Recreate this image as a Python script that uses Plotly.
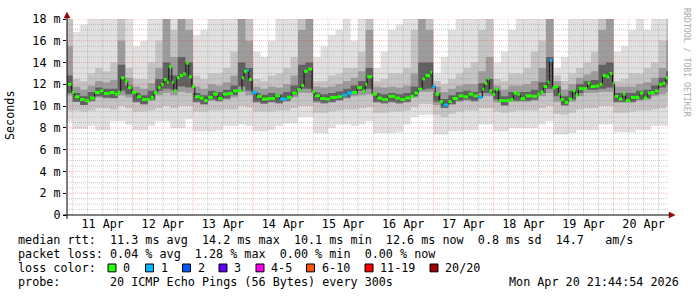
import plotly.graph_objects as go
import pandas as pd

# ---------------- data ----------------
# hours after 2026-04-11 00:00 where each median step starts
median_hours = [-2.0, -0.4, 0.8, 2.8, 4.8, 6.8, 8.8, 10.8, 12.4, 14.8, 16.8, 18.0, 19.2, 20.8, 22.0, 23.6,
                25.6, 27.6, 29.6, 31.2, 32.4, 34.0, 35.2, 36.4, 37.6, 38.4, 39.6, 40.4, 41.6, 42.8, 44.0,
                45.2, 46.4, 47.6, 48.8, 50.8, 52.4, 54.0, 56.0, 58.0, 60.0, 62.0, 64.0, 66.0, 67.6, 68.4,
                69.6, 70.4, 71.6, 73.6, 75.6, 78.0, 80.8, 82.8, 85.6, 87.6, 89.6, 91.2, 92.4, 94.0, 95.6,
                96.8, 98.8, 100.8, 102.8, 105.6, 107.6, 109.6, 111.6, 113.6, 115.6, 116.8, 117.6, 119.6,
                121.6, 123.6, 126.0, 128.8, 130.8, 132.8, 134.8, 136.4, 138.0, 139.6, 140.8, 142.8, 143.6,
                144.8, 146.4, 148.0, 150.0, 151.6, 154.0, 156.0, 158.0, 160.0, 162.0, 163.6, 164.4, 165.6,
                166.4, 167.6, 168.8, 170.0, 172.8, 174.8, 176.0, 177.6, 178.8, 180.8, 183.6, 185.6, 186.8,
                188.0, 189.6, 190.4, 191.6, 192.8, 194.0, 194.8, 196.4, 198.0, 199.6, 200.8, 202.0, 204.0,
                205.6, 206.8, 208.8, 210.4, 211.6, 213.2, 214.4, 215.6, 216.4, 218.0, 219.6, 220.8, 222.8,
                224.8, 226.4, 228.0, 229.6, 230.8, 232.4, 234.0, 235.6, 236.8]
median_ms = [12.0, 11.25, 10.86, 10.6, 10.5, 10.74, 11.25, 11.4, 11.16, 11.25, 11.1, 11.25, 12.6, 12.3, 11.7, 11.25,
             10.86, 10.6, 10.6, 10.8, 11.2, 11.7, 12.0, 12.45, 12.2, 13.6, 12.2, 11.4, 12.6, 12.8, 12.96,
             13.95, 12.7, 11.8, 10.86, 10.74, 10.5, 10.8, 11.1, 10.7, 11.1, 11.16, 11.4, 11.4, 12.6, 13.2,
             13.3, 12.45, 11.25, 10.9, 10.65, 10.7, 10.95, 10.65, 10.8, 11.2, 11.5, 11.9, 13.2, 13.4, 11.3,
             10.95, 10.7, 10.65, 10.8, 10.86, 11.0, 11.2, 11.25, 11.7, 11.4, 12.0, 12.7, 11.1,
             10.74, 10.6, 10.9, 10.74, 10.6, 10.74, 10.9, 11.2, 11.55, 12.5, 12.8, 13.1, 11.8,
             11.1, 10.4, 10.1, 10.4, 10.7, 10.95, 10.86, 11.1, 10.95, 10.8, 11.55, 12.1, 12.5,
             11.4, 11.1, 11.55, 10.5, 10.5, 10.6, 11.2, 11.1, 10.7, 10.95, 10.9, 11.1, 11.3,
             11.8, 12.2, 14.2, 11.7, 11.8, 11.1, 10.6, 10.35, 10.65, 11.4, 11.0, 11.6, 11.6,
             12.1, 11.8, 11.85, 12.0, 12.8, 12.7, 13.0, 12.1, 10.9, 10.65, 11.1, 10.5, 10.8,
             10.8, 11.2, 10.74, 11.2, 11.25, 11.4, 12.0, 12.1, 12.6]
end_hour = 237.75

# steps that lost one of 20 pings
loss_hours = [69.6, 71.6, 82.8, 107.6, 109.6, 143.6, 148.0, 162.0, 190.4]
loss_counts = [1, 1, 1, 1, 1, 1, 1, 1, 1]

# smoke: 3-hour columns starting at 2026-04-10 21:00
smoke_start_hours = [-3 + 3 * i for i in range(81)]
outer_lo = [8.6, 7.9, 7.9, 8.2, 7.8, 7.8, 8.6, 8.6, 8.3, 7.8, 7.8, 8.2, 8.6, 8.6, 8.0, 8.0, 8.8, 7.7, 7.7, 7.7,
            7.8, 8.2, 8.2, 8.3, 8.2, 7.7, 7.7, 7.8, 8.2, 8.4, 8.4, 9.0, 9.0, 7.5, 7.5, 8.0, 8.3, 8.3, 8.2, 8.3,
            8.6, 7.5, 7.5, 7.5, 7.6, 8.3, 9.0, 9.2, 9.2, 7.4, 7.4, 7.7, 7.7, 7.8, 7.8, 8.3, 8.3, 7.7, 7.7, 8.0,
            8.0, 8.0, 8.0, 8.3, 8.6, 7.4, 7.4, 7.5, 7.8, 7.8, 7.8, 8.3, 8.3, 7.6, 7.6, 7.6, 7.8, 7.8, 8.2, 8.2,
            8.2]
mid_lo = [9.6, 9.6, 9.5, 9.6, 9.8, 9.8, 9.7, 10.0, 9.8, 9.5, 9.5, 9.6, 9.8, 10.0, 9.8, 10.0, 10.0, 9.5, 9.5, 9.6,
          9.6, 9.7, 9.7, 10.0, 9.9, 9.5, 9.5, 9.5, 9.6, 9.6, 9.8, 10.0, 10.0, 9.4, 9.4, 9.5, 9.6, 9.7, 9.7, 9.8,
          9.9, 9.4, 9.4, 9.5, 9.5, 9.6, 9.9, 10.2, 10.2, 9.2, 9.0, 9.3, 9.5, 9.6, 9.6, 9.8, 9.8, 9.5, 9.4, 9.5,
          9.6, 9.6, 9.6, 9.8, 10.0, 9.3, 9.2, 9.4, 9.7, 9.8, 9.8, 10.0, 10.0, 9.4, 9.4, 9.5, 9.6, 9.6, 9.7, 9.8,
          10.0]
inner_lo = [11.0, 10.4, 10.1, 10.4, 10.8, 10.7, 10.7, 11.0, 10.8, 10.3, 10.1, 10.5, 11.0, 11.2, 11.0, 11.3, 11.2,
            10.3, 10.1, 10.5, 10.4, 10.6, 10.8, 11.3, 11.0, 10.3, 10.2, 10.3, 10.2, 10.4, 10.8, 11.2, 11.2, 10.3,
            10.2, 10.3, 10.5, 10.7, 10.9, 11.0, 11.1, 10.3, 10.2, 10.3, 10.2, 10.3, 10.8, 11.3, 11.3, 10.1, 9.8,
            10.1, 10.4, 10.5, 10.4, 10.9, 10.9, 10.3, 10.0, 10.4, 10.4, 10.4, 10.5, 10.9, 11.2, 10.4, 10.0, 10.4,
            10.9, 11.2, 11.2, 11.3, 11.3, 10.3, 10.3, 10.3, 10.5, 10.6, 10.9, 11.1, 11.3]
inner_hi = [15.5, 11.8, 11.5, 11.9, 12.3, 12.2, 12.4, 16.0, 12.6, 11.8, 11.6, 12.1, 13.5, 18.5, 14.5, 18.5, 17.0,
            11.8, 11.6, 12.0, 11.9, 12.2, 12.8, 18.5, 16.0, 11.8, 11.6, 11.8, 11.7, 12.0, 12.8, 17.0, 18.5, 11.8,
            11.7, 11.8, 12.0, 12.3, 12.6, 13.2, 17.0, 11.8, 11.7, 11.8, 11.7, 11.9, 13.0, 18.5, 17.0, 11.8, 11.3,
            11.6, 11.9, 12.0, 12.0, 13.2, 14.5, 11.9, 11.5, 11.9, 11.9, 12.0, 12.3, 13.5, 18.5, 12.3, 11.5, 12.0,
            12.6, 12.9, 13.2, 17.0, 18.5, 11.8, 11.8, 11.8, 12.0, 12.2, 12.6, 13.5, 16.0]
dark_lo = [11.2, 10.4, 10.1, 10.5, 10.9, 10.8, 10.75, 11.4, 11.1, 10.4,
           10.2, 10.6, 11.4, 11.6, 11.5, 11.8, 11.7, 10.4, 10.2, 10.6,
           10.5, 10.7, 11.0, 11.8, 11.4, 10.4, 10.25, 10.4, 10.3, 10.5,
           11.0, 11.6, 11.6, 10.45, 10.3, 10.4, 10.55, 10.8, 11.1, 11.4,
           11.6, 10.4, 10.3, 10.4, 10.3, 10.4, 10.9, 11.5, 11.6, 10.4,
           9.85, 10.2, 10.5, 10.6, 10.5, 11.2, 11.2, 10.6, 10.1, 10.5,
           10.5, 10.5, 10.6, 11.2, 11.6, 10.9, 10.1, 10.6, 11.2, 11.5,
           11.5, 11.6, 11.7, 10.4, 10.4, 10.4, 10.6, 10.7, 11.1, 11.7, 12.0]
dark_hi = [12.8, 11.2, 10.9, 11.3, 11.7, 11.6, 11.6, 13.8, 11.9, 11.2,
           11.0, 11.4, 12.5, 14.0, 12.8, 14.5, 14.0, 11.2, 11.0, 11.4,
           11.3, 11.5, 11.9, 14.0, 13.5, 11.2, 11.05, 11.2, 11.1, 11.3,
           11.9, 13.8, 14.0, 11.25, 11.1, 11.2, 11.35, 11.6, 11.9, 12.3,
           13.5, 11.2, 11.1, 11.2, 11.1, 11.2, 11.8, 14.0, 14.0, 11.2,
           10.65, 11.0, 11.3, 11.4, 11.3, 12.1, 12.5, 11.4, 10.9, 11.3,
           11.3, 11.3, 11.5, 12.2, 14.5, 11.8, 10.9, 11.4, 12.0, 12.3,
           12.4, 13.8, 14.0, 11.2, 11.2, 11.2, 11.4, 11.5, 11.9, 12.6, 13.2]
mid_hi = [18.5, 12.5, 12.3, 13.0, 13.5, 13.2, 14.0, 18.5, 13.5, 12.5, 12.5, 14.0, 16.0, 18.5, 17.0, 18.5, 18.5,
          12.8, 12.5, 13.0, 13.0, 13.5, 15.0, 18.5, 18.5, 12.5, 12.3, 12.8, 13.0, 13.5, 14.5, 18.5, 18.5, 12.3,
          12.3, 12.8, 13.0, 13.5, 13.5, 15.0, 18.5, 12.3, 12.5, 13.0, 13.0, 13.5, 17.0, 18.5, 18.5, 12.3, 12.0,
          12.5, 13.0, 13.5, 14.0, 17.0, 18.5, 12.5, 12.3, 13.0, 13.0, 13.5, 15.0, 16.0, 18.5, 12.8, 12.3, 13.0,
          13.5, 14.0, 15.0, 18.5, 18.5, 12.3, 12.5, 13.0, 13.0, 13.5, 14.0, 16.0, 18.5]
outer_hi = [18.5, 16.8, 17.5, 18.5, 18.5, 18.5, 18.5, 18.5, 18.5, 15.5, 16.0, 18.5, 18.5, 18.5, 18.5, 18.5, 18.5,
            16.5, 17.0, 18.5, 18.5, 18.5, 18.5, 18.5, 18.5, 15.0, 14.5, 16.0, 18.5, 18.5, 18.5, 18.5, 18.5, 14.5,
            15.5, 16.5, 17.0, 18.5, 16.0, 18.5, 18.5, 13.5, 15.0, 17.0, 17.5, 18.5, 18.5, 18.5, 18.5, 13.0, 14.5,
            17.0, 18.5, 18.5, 18.5, 18.5, 18.5, 14.0, 15.0, 17.0, 18.5, 18.5, 18.5, 18.5, 18.5, 13.5, 14.5, 18.5,
            18.5, 18.5, 18.5, 18.5, 18.5, 15.0, 15.5, 17.0, 18.5, 17.0, 18.5, 18.5, 18.5]

day_labels = ["11 Apr", "12 Apr", "13 Apr", "14 Apr", "15 Apr", "16 Apr", "17 Apr", "18 Apr", "19 Apr", "20 Apr"]
y_tick_vals = [0, 2, 4, 6, 8, 10, 12, 14, 16, 18]
y_tick_text = ["0", "2 m", "4 m", "6 m", "8 m", "10 m", "12 m", "14 m", "16 m", "18 m"]

stats_lines = [
    "median rtt:  11.3 ms avg  14.2 ms max  10.1 ms min  12.6 ms now  0.8 ms sd  14.7   am/s",
    "packet loss: 0.04 % avg  1.28 % max  0.00 % min  0.00 % now",
]
probe_line = "probe:       20 ICMP Echo Pings (56 Bytes) every 300s"
date_text = "Mon Apr 20 21:44:54 2026"
loss_labels = ["0", "1", "2", "3", "4-5", "6-10", "11-19", "20/20"]
loss_colors = ["#26ff00", "#00b8ff", "#0059ff", "#5e00ff", "#ff00ee", "#ff5500", "#ff0000", "#a10000"]

# ---------------- helpers ----------------
base = pd.Timestamp("2026-04-11 00:00:00")
def T(h):
    return base + pd.to_timedelta(h, unit="h")

W, H = 697, 297
L, R, TOP, BOT = 67, 29, 15, 82
PW, PH = W - L - R, H - TOP - BOT
def px(x):
    return (x - L) / PW
def py(y):
    return (TOP + PH - y) / PH

MONO = "DejaVu Sans Mono"
FS = 11.75

fig = go.Figure()

# ---------------- smoke ----------------
sx = [T(h) for h in smoke_start_hours] + [T(smoke_start_hours[-1] + 3)]
def ext(a):
    return list(a) + [a[-1]]

bands = [(outer_lo, outer_hi, "#e0e0e0"), (mid_lo, mid_hi, "#c4c4c4"),
         (inner_lo, inner_hi, "#9c9c9c"), (dark_lo, dark_hi, "#606060")]
for lo, hi, col in bands:
    fig.add_trace(go.Scatter(x=sx, y=ext(lo), mode="lines", line=dict(width=0, shape="hv"),
                             hoverinfo="skip", showlegend=False))
    fig.add_trace(go.Scatter(x=sx, y=ext(hi), mode="lines", line=dict(width=0, shape="hv"),
                             fill="tonexty", fillcolor=col, hoverinfo="skip", showlegend=False))

# ---------------- median ----------------
mx = [T(h) for h in median_hours] + [T(end_hour)]
fig.add_trace(go.Scatter(x=mx, y=ext(median_ms), mode="lines",
                         line=dict(width=1, color="#111111", shape="hv"),
                         hoverinfo="skip", showlegend=False))

loss_map = dict(zip(loss_hours, loss_counts))
def loss_idx(n):
    thresholds = [0, 1, 2, 3, 5, 10, 19, 20]
    for i, t in enumerate(thresholds):
        if n <= t:
            return i
    return 7

seg = {}
for i, h in enumerate(median_hours):
    h2 = median_hours[i + 1] if i + 1 < len(median_hours) else end_hour
    k = loss_idx(loss_map.get(h, 0))
    seg.setdefault(k, ([], []))
    seg[k][0].extend([T(h), T(h2), None])
    seg[k][1].extend([median_ms[i], median_ms[i], None])
for k, (xs, ys) in seg.items():
    fig.add_trace(go.Scatter(x=xs, y=ys, mode="lines", line=dict(width=3, color=loss_colors[k]),
                             hoverinfo="skip", showlegend=False))

# ---------------- grid (on top, like rrdtool) ----------------
shapes = []
minor_col = "rgba(130,130,130,0.4)"
major_col = "rgba(255,0,0,0.28)"
for h in range(0, 240, 6):
    shapes.append(dict(type="line", xref="x", yref="paper", x0=T(h), x1=T(h), y0=0, y1=1, layer="above",
                       line=dict(width=1, dash="1px,1px", color=major_col if h % 24 == 0 else minor_col)))
v = 0.5
while v <= 18.001:
    major = abs(v / 2 - round(v / 2)) < 1e-6
    shapes.append(dict(type="line", xref="paper", yref="y", x0=0, x1=1, y0=v, y1=v, layer="above",
                       line=dict(width=1, dash="1px,1px", color=major_col if major else minor_col)))
    v += 0.5

# axes lines & arrows
shapes.append(dict(type="line", xref="paper", yref="paper", x0=px(63), x1=px(670), y0=0, y1=0,
                   line=dict(color="black", width=1), layer="above"))
shapes.append(dict(type="line", xref="paper", yref="paper", x0=0, x1=0, y0=py(219), y1=py(10),
                   line=dict(color="black", width=1), layer="above"))
arrow_col = "#990000"
shapes.append(dict(type="path", xref="paper", yref="paper",
                   path=f"M {px(64)},{py(14)} L {px(70)},{py(14)} L {px(67)},{py(8)} Z",
                   fillcolor=arrow_col, line=dict(color=arrow_col, width=0.5), layer="above"))
shapes.append(dict(type="path", xref="paper", yref="paper",
                   path=f"M {px(669)},{py(212)} L {px(669)},{py(218)} L {px(675)},{py(215)} Z",
                   fillcolor=arrow_col, line=dict(color=arrow_col, width=0.5), layer="above"))

# ---------------- text ----------------
def nb(s):
    return s.replace(" ", "\u00a0")

ann = []
row_y = [241, 255, 269, 283]
for i, s in enumerate(stats_lines):
    ann.append(dict(text=nb(s), xref="paper", yref="paper", x=px(16), y=py(row_y[i]),
                    xanchor="left", yanchor="middle", showarrow=False,
                    font=dict(family=MONO, size=FS, color="black")))
ann.append(dict(text=nb("loss color:"), xref="paper", yref="paper", x=px(16), y=py(row_y[2]),
                xanchor="left", yanchor="middle", showarrow=False, font=dict(family=MONO, size=FS, color="black")))
sq_x = [108, 145.5, 182.5, 219, 256, 306.5, 365, 430]
for i, lab in enumerate(loss_labels):
    x0 = sq_x[i]
    shapes.append(dict(type="rect", xref="paper", yref="paper", x0=px(x0), x1=px(x0 + 8),
                       y0=py(273), y1=py(265), fillcolor=loss_colors[i], line=dict(color="black", width=1)))
    ann.append(dict(text=lab, xref="paper", yref="paper", x=px(x0 + 13), y=py(row_y[2]),
                    xanchor="left", yanchor="middle", showarrow=False,
                    font=dict(family=MONO, size=FS, color="black")))
ann.append(dict(text=nb(probe_line), xref="paper", yref="paper", x=px(16), y=py(row_y[3]),
                xanchor="left", yanchor="middle", showarrow=False, font=dict(family=MONO, size=FS, color="black")))
ann.append(dict(text=nb(date_text), xref="paper", yref="paper", x=px(681), y=py(row_y[3]),
                xanchor="right", yanchor="middle", showarrow=False, font=dict(family=MONO, size=FS, color="black")))
ann.append(dict(text="Seconds", xref="paper", yref="paper", x=px(10), y=py(113), textangle=-90,
                xanchor="center", yanchor="middle", showarrow=False, font=dict(family=MONO, size=FS, color="black")))
ann.append(dict(text=nb("RRDTOOL / TOBI OETIKER"), xref="paper", yref="paper", x=px(687), y=py(59), textangle=90,
                xanchor="center", yanchor="middle", showarrow=False, font=dict(family=MONO, size=8.2, color="#aaaaaa")))

fig.update_layout(
    width=W, height=H, margin=dict(l=L, r=R, t=TOP, b=BOT),
    paper_bgcolor="white", plot_bgcolor="white",
    shapes=shapes, annotations=ann, showlegend=False,
    xaxis=dict(range=[T(-(2 + 15 / 60 + 6 / 3600)), T(end_hour)], showgrid=False, zeroline=False, showline=False,
               tickmode="array", tickvals=[T(12 + 24 * d) for d in range(10)], ticktext=day_labels,
               ticks="", tickfont=dict(family=MONO, size=FS, color="black")),
    yaxis=dict(range=[0, 18], showgrid=False, zeroline=False, showline=False,
               tickmode="array", tickvals=y_tick_vals, ticktext=y_tick_text,
               ticks="outside", ticklen=3, tickcolor="black",
               tickfont=dict(family=MONO, size=FS, color="black")),
)

fig.write_html("out.html")
